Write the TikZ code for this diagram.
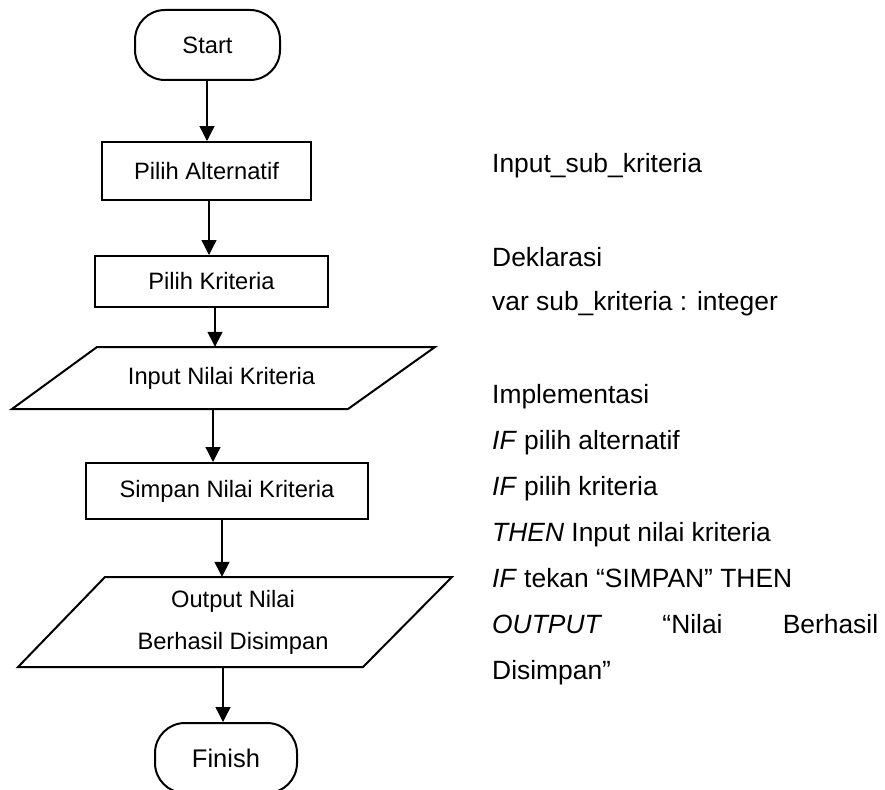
\documentclass[tikz,border=0pt]{standalone}
\usepackage{fontspec}
\setmainfont{Liberation Sans}
\usetikzlibrary{arrows.meta}

\begin{document}
\begin{tikzpicture}[x=1pt,y=-1pt,
  box/.style={draw,line width=2pt,inner sep=0pt,font=\fontsize{23.7}{28}\selectfont},
  term/.style={box,rounded corners=30pt},
  iotext/.style={inner sep=0pt,align=center,font=\fontsize{23.7}{42}\selectfont},
  ioshape/.style={draw,line width=2pt,line join=miter},
  arr/.style={line width=1.3pt,-{Triangle[width=15pt,length=15pt]}},
  code/.style={anchor=base west,inner sep=0pt,font=\fontsize{26.4}{30}\selectfont}]
\useasboundingbox (0,0) rectangle (885,789);
\clip (0,0) rectangle (885,789);

% flowchart
\node[term,minimum width=145pt,minimum height=70pt] (start) at (207.5,45) {Start};
\node[box,minimum width=209pt,minimum height=58pt] (alt) at (206.5,171) {Pilih Alternatif};
\node[box,minimum width=233pt,minimum height=51pt] (krit) at (211.5,281.5) {Pilih Kriteria};

\draw[ioshape] (97,347) -- (435,347) -- (348,409) -- (12,409) -- cycle;
\node[iotext,minimum width=250pt,minimum height=62pt] (inp) at (221.5,378) {Input Nilai Kriteria};

\node[box,minimum width=282pt,minimum height=56pt] (simp) at (227,491) {Simpan Nilai Kriteria};

\draw[ioshape] (105,577) -- (452,577) -- (363,667) -- (18,667) -- cycle;
\node[iotext,minimum width=260pt,minimum height=90pt] (out) at (233,622) {Output Nilai\\Berhasil Disimpan};

\node[term,minimum width=142pt,minimum height=70pt,font=\fontsize{25.5}{30}\selectfont] (fin) at (226,758) {Finish};

% connectors
\draw[arr] (start.south -| 207,0) -- (alt.north -| 207,0);
\draw[arr] (alt.south -| 209,0) -- (krit.north -| 209,0);
\draw[arr] (krit.south -| 215,0) -- (inp.north -| 215,0);
\draw[arr] (inp.south -| 213,0) -- (simp.north -| 213,0);
\draw[arr] (simp.south -| 222,0) -- (out.north -| 222,0);
\draw[arr] (out.south -| 223,0) -- (fin.north -| 223,0);

% pseudocode
\node[code] (c1) at (492,172) {Input\_sub\_kriteria};
\node[code] (c2) at (492,266) {Deklarasi};
\node[code] (c3) at (492,310) {var sub\_kriteria : integer};
\node[code] (c4) at (492,403) {Implementasi};
\node[code] (c5) at (492,449) {\textit{IF} pilih alternatif};
\node[code] (c6) at (492,495) {\textit{IF} pilih kriteria};
\node[code] (c7) at (492,541) {\textit{THEN} Input nilai kriteria};
\node[code] (c8) at (492,587) {\textit{IF} tekan “SIMPAN” THEN};
\node[code] (c9) at (492,633) {\makebox[386pt][s]{\textit{OUTPUT} “Nilai Berhasil}};
\node[code] (c10) at (492,679) {Disimpan”};
\end{tikzpicture}
\end{document}
